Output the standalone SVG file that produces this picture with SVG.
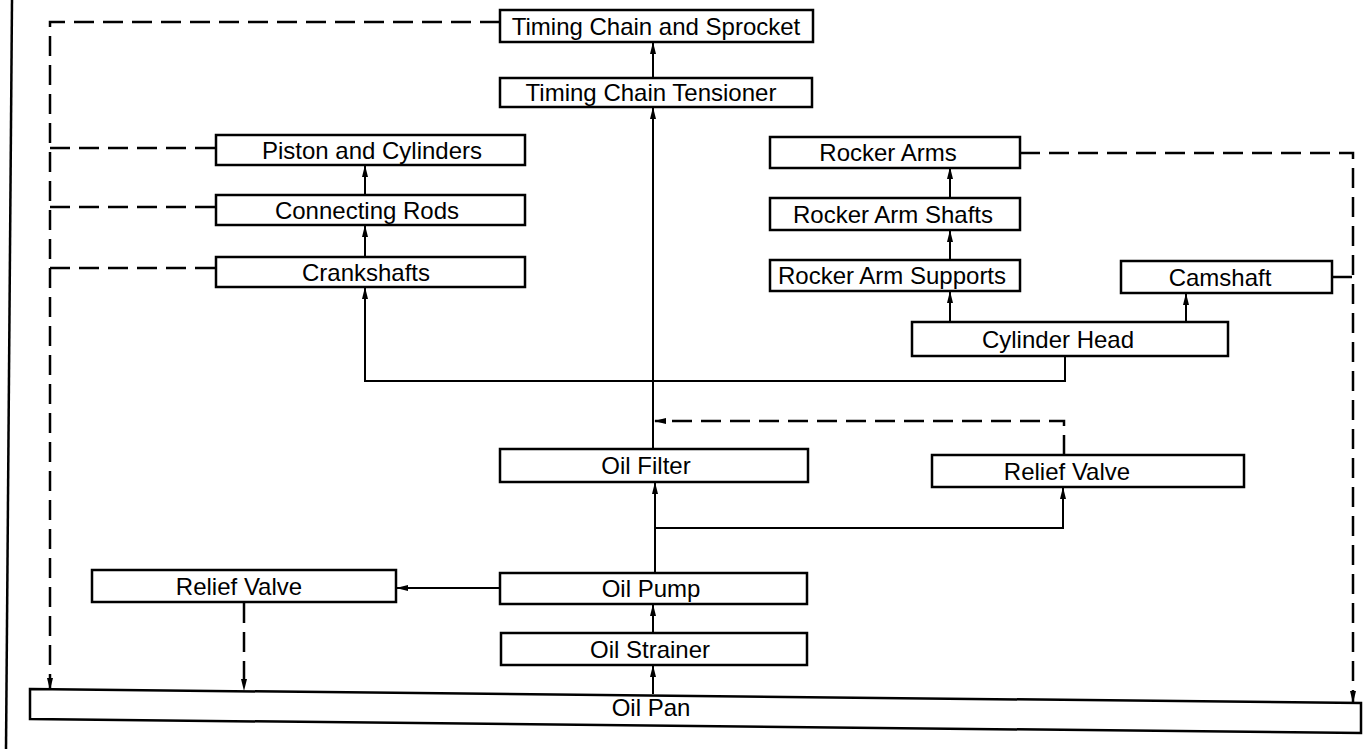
<svg xmlns="http://www.w3.org/2000/svg" width="1365" height="749" viewBox="0 0 1365 749">
<style>
.box{fill:#fff;stroke:#000;stroke-width:2.5}
.lbl{font-family:"Liberation Sans",Arial,sans-serif;font-size:24px;fill:#000;text-anchor:middle}
.ln{fill:none;stroke:#000;stroke-width:2}
.dash{fill:none;stroke:#000;stroke-width:2.5;stroke-dasharray:20 9}
</style>
<defs>
<marker id="ah" markerUnits="userSpaceOnUse" markerWidth="12" markerHeight="6" refX="11" refY="3" orient="auto">
<path d="M0,0 L12,3 L0,6 z" fill="#000"/>
</marker>
</defs>
<rect width="1365" height="749" fill="#fff"/>
<line x1="12" y1="0" x2="6" y2="749" stroke="#000" stroke-width="2.5"/>
<g id="connectors">
<line class="ln" x1="653" y1="78" x2="653" y2="43" marker-end="url(#ah)"/>
<line class="ln" x1="653" y1="449" x2="653" y2="108" marker-end="url(#ah)"/>
<line class="ln" x1="365" y1="195" x2="365" y2="166" marker-end="url(#ah)"/>
<line class="ln" x1="365" y1="257" x2="365" y2="226" marker-end="url(#ah)"/>
<path class="ln" d="M1065,356 V381 H365 V288" marker-end="url(#ah)"/>
<line class="ln" x1="950" y1="197" x2="950" y2="168" marker-end="url(#ah)"/>
<line class="ln" x1="950" y1="259" x2="950" y2="231" marker-end="url(#ah)"/>
<line class="ln" x1="950" y1="321" x2="950" y2="292" marker-end="url(#ah)"/>
<line class="ln" x1="1186" y1="321" x2="1186" y2="294" marker-end="url(#ah)"/>
<path class="dash" d="M1064,455 V421 H655" marker-end="url(#ah)"/>
<line class="ln" x1="655" y1="572" x2="655" y2="483" marker-end="url(#ah)"/>
<path class="ln" d="M655,528 H1063 V488" marker-end="url(#ah)"/>
<line class="ln" x1="500" y1="588" x2="397" y2="588" marker-end="url(#ah)"/>
<line class="ln" x1="653" y1="633" x2="653" y2="605" marker-end="url(#ah)"/>
<line class="ln" x1="653" y1="694" x2="653" y2="666" marker-end="url(#ah)"/>
<path class="dash" d="M244,603 V690" marker-end="url(#ah)"/>
<path class="dash" d="M500,22 H50 V689" marker-end="url(#ah)"/>
<path class="dash" d="M215,148 H50"/>
<path class="dash" d="M215,207 H50"/>
<path class="dash" d="M215,268 H50"/>
<path class="dash" d="M1020,153 H1353 V702" marker-end="url(#ah)"/>
<path class="dash" d="M1332,277 H1353"/>
</g>
<g id="timing-chain-sprocket"><rect class="box" x="500" y="10" width="313" height="32"/><text class="lbl" x="656" y="35">Timing Chain and Sprocket</text></g>
<g id="timing-chain-tensioner"><rect class="box" x="500" y="78" width="312" height="29"/><text class="lbl" x="651" y="101">Timing Chain Tensioner</text></g>
<g id="piston-cylinders"><rect class="box" x="216" y="135" width="309" height="30"/><text class="lbl" x="372" y="159">Piston and Cylinders</text></g>
<g id="connecting-rods"><rect class="box" x="216" y="195" width="309" height="30"/><text class="lbl" x="367" y="219">Connecting Rods</text></g>
<g id="crankshafts"><rect class="box" x="216" y="257" width="309" height="30"/><text class="lbl" x="366" y="281">Crankshafts</text></g>
<g id="rocker-arms"><rect class="box" x="770" y="137" width="250" height="31"/><text class="lbl" x="888" y="161">Rocker Arms</text></g>
<g id="rocker-arm-shafts"><rect class="box" x="770" y="198" width="250" height="32"/><text class="lbl" x="893" y="223">Rocker Arm Shafts</text></g>
<g id="rocker-arm-supports"><rect class="box" x="770" y="260" width="250" height="31"/><text class="lbl" x="892" y="284">Rocker Arm Supports</text></g>
<g id="camshaft"><rect class="box" x="1121" y="261" width="211" height="32"/><text class="lbl" x="1220" y="286">Camshaft</text></g>
<g id="cylinder-head"><rect class="box" x="912" y="322" width="316" height="34"/><text class="lbl" x="1058" y="348">Cylinder Head</text></g>
<g id="oil-filter"><rect class="box" x="500" y="449" width="308" height="33"/><text class="lbl" x="646" y="474">Oil Filter</text></g>
<g id="relief-valve-right"><rect class="box" x="932" y="455" width="312" height="32"/><text class="lbl" x="1067" y="480">Relief Valve</text></g>
<g id="oil-pump"><rect class="box" x="500" y="573" width="307" height="31"/><text class="lbl" x="651" y="597">Oil Pump</text></g>
<g id="relief-valve-left"><rect class="box" x="92" y="570" width="304" height="32"/><text class="lbl" x="239" y="595">Relief Valve</text></g>
<g id="oil-strainer"><rect class="box" x="501" y="633" width="306" height="32"/><text class="lbl" x="650" y="658">Oil Strainer</text></g>
<g id="oil-pan"><path class="box" d="M30,689 L1361,703 L1361,733 L30,719 Z"/><text class="lbl" x="651" y="716">Oil Pan</text></g>
</svg>
